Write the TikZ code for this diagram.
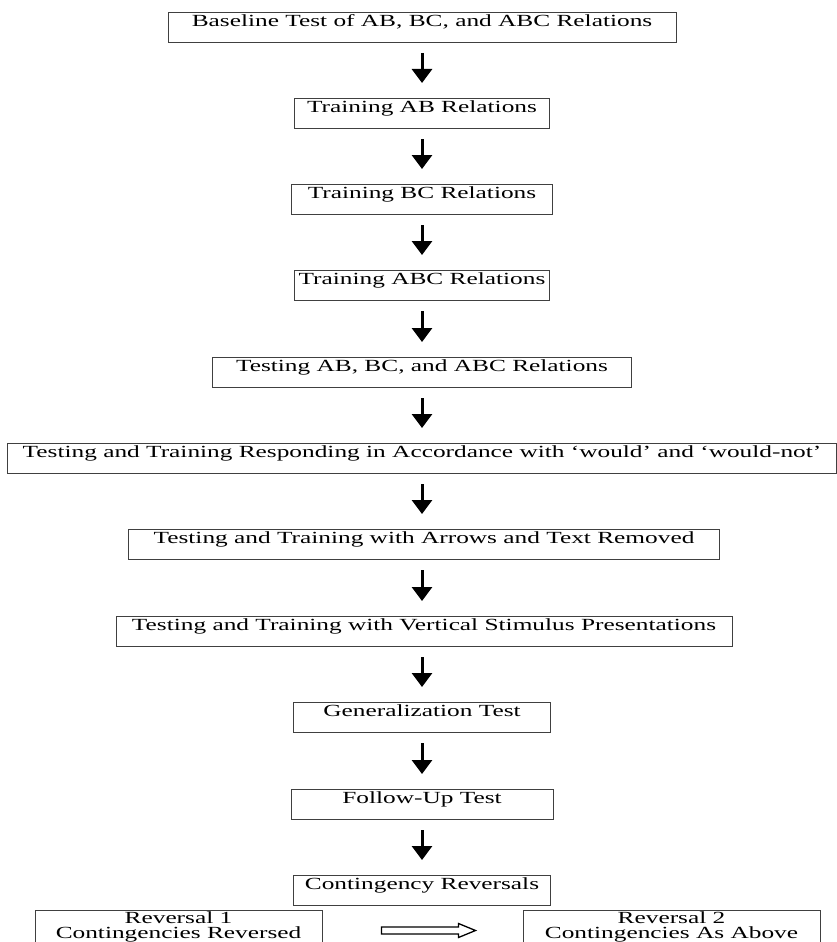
\documentclass[tikz,border=0pt]{standalone}
\usepackage{fontspec}
\setmainfont[FakeStretch=1.49]{Liberation Serif}
\usetikzlibrary{arrows.meta}
\tikzset{
  stage/.style={draw=black!75, line width=1pt, rectangle, anchor=north,
    inner xsep=0pt, inner ysep=0pt, text height=14pt, text depth=16pt,
    align=center, font=\fontsize{17}{15.7}\selectfont},
  revbox/.style={stage, text height=28.3pt, text depth=12pt,
    font=\fontsize{17}{15.5}\selectfont},
  downarrow/.style={line width=3pt, -{Triangle[width=20pt,length=14pt]},
    shorten <=10pt, shorten >=15pt},
  hollowarrow/.style={draw=black, line width=1.3pt, fill=white, line join=miter}
}
\begin{document}
\begin{tikzpicture}[x=1pt,y=-1pt]
\useasboundingbox (0,0) rectangle (837,942);
\node[stage, minimum width=508pt] (b1) at (422,12) {Baseline Test of AB, BC, and ABC Relations};
\node[stage, minimum width=255pt] (b2) at (422,98) {Training AB Relations};
\node[stage, minimum width=261pt] (b3) at (422,184) {Training BC Relations};
\node[stage, minimum width=255pt] (b4) at (422,270) {Training ABC Relations};
\node[stage, minimum width=419pt] (b5) at (422,357) {Testing AB, BC, and ABC Relations};
\node[stage, minimum width=829pt] (b6) at (422,443) {Testing and Training Responding in Accordance with ‘would’ and ‘would-not’};
\node[stage, minimum width=591pt] (b7) at (424,529) {Testing and Training with Arrows and Text Removed};
\node[stage, minimum width=616pt] (b8) at (424,616) {Testing and Training with Vertical Stimulus Presentations};
\node[stage, minimum width=257pt] (b9) at (422,702) {Generalization Test};
\node[stage, minimum width=262pt] (b10) at (422,789) {Follow-Up Test};
\node[stage, minimum width=257pt] (b11) at (422,875) {Contingency Reversals};
\node[revbox, minimum width=287pt] (r1) at (178.5,910) {Reversal 1\\Contingencies Reversed};
\node[revbox, minimum width=297pt] (r2) at (671.5,910) {Reversal 2\\Contingencies As Above};

\foreach \a/\b in {b1/b2,b2/b3,b3/b4,b4/b5,b5/b6,b6/b7,b7/b8,b8/b9,b9/b10,b10/b11}{
  \draw[downarrow] (\a.south -| 422,0) -- (\b.north -| 422,0);
}
\coordinate (hs) at ([xshift=59pt]r1.east |- 0,930.5);
\draw[hollowarrow] (hs) ++(0,-3.5) -- ++(77,0) -- ++(0,-3.5) -- ++(17,7) -- ++(-17,7)
  -- ++(0,-3.5) -- ++(-77,0) -- cycle;
\end{tikzpicture}
\end{document}
